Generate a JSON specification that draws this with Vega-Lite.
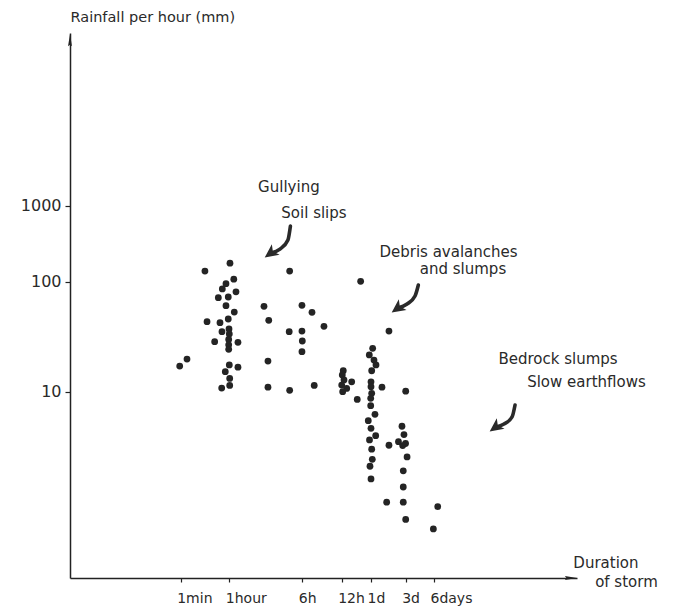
{
  "$schema": "https://vega.github.io/schema/vega-lite/v6.json",
  "width": 507,
  "height": 545,
  "autosize": "none",
  "padding": {"left": 70, "top": 33, "right": 107, "bottom": 31},
  "background": "white",
  "config": {
    "view": {"stroke": null},
    "font": "DejaVu Sans",
    "axis": {"grid": false, "domainColor": "#222", "domainWidth": 1.5, "tickColor": "#222", "tickWidth": 1.2, "labelColor": "#2a2a2a", "titleColor": "#2a2a2a", "labelFont": "DejaVu Sans", "titleFont": "DejaVu Sans"}
  },
  "datasets": {
    "dots": [
      {"minutes": 61, "rate": 175}, {"minutes": 7.7, "rate": 138}, {"minutes": 264, "rate": 138},
      {"minutes": 67, "rate": 108}, {"minutes": 45.4, "rate": 96}, {"minutes": 33.3, "rate": 86},
      {"minutes": 70.7, "rate": 81}, {"minutes": 23.8, "rate": 71.6}, {"minutes": 55, "rate": 72.6},
      {"minutes": 45.4, "rate": 60.5}, {"minutes": 67.8, "rate": 53}, {"minutes": 140.6, "rate": 59.7},
      {"minutes": 357, "rate": 61}, {"minutes": 427, "rate": 52.7}, {"minutes": 158, "rate": 44.6},
      {"minutes": 9.2, "rate": 43.3}, {"minutes": 27.4, "rate": 42.4}, {"minutes": 55, "rate": 45.8},
      {"minutes": 527, "rate": 39.3}, {"minutes": 32.4, "rate": 35.1}, {"minutes": 58.5, "rate": 37.2},
      {"minutes": 60, "rate": 33.5}, {"minutes": 261, "rate": 35.1}, {"minutes": 357, "rate": 35.6},
      {"minutes": 17.5, "rate": 28.5}, {"minutes": 57, "rate": 29.9}, {"minutes": 74.2, "rate": 28.1},
      {"minutes": 57, "rate": 26.7}, {"minutes": 57, "rate": 24.3}, {"minutes": 360, "rate": 28.9},
      {"minutes": 357, "rate": 23.1}, {"minutes": 1.7, "rate": 19.8}, {"minutes": 0.92, "rate": 17.1},
      {"minutes": 60, "rate": 17.5}, {"minutes": 74.2, "rate": 16.7}, {"minutes": 155, "rate": 19.0},
      {"minutes": 42.8, "rate": 15.2}, {"minutes": 60.6, "rate": 13.2}, {"minutes": 60.6, "rate": 11.4},
      {"minutes": 31.6, "rate": 10.8}, {"minutes": 155, "rate": 11.0}, {"minutes": 264, "rate": 10.3},
      {"minutes": 444, "rate": 11.4},
      {"minutes": 1127, "rate": 101}, {"minutes": 2543, "rate": 35.6},
      {"minutes": 747, "rate": 15.5}, {"minutes": 730, "rate": 14.2}, {"minutes": 760, "rate": 12.8},
      {"minutes": 912, "rate": 12.3}, {"minutes": 720, "rate": 11.5}, {"minutes": 810, "rate": 10.7},
      {"minutes": 737, "rate": 10.0}, {"minutes": 1040, "rate": 8.5},
      {"minutes": 1518, "rate": 24.8}, {"minutes": 1383, "rate": 21.6}, {"minutes": 1583, "rate": 19.4},
      {"minutes": 1686, "rate": 17.5}, {"minutes": 1472, "rate": 15.5}, {"minutes": 1440, "rate": 12.3},
      {"minutes": 1440, "rate": 11.1}, {"minutes": 2038, "rate": 11.0}, {"minutes": 1472, "rate": 9.67},
      {"minutes": 1430, "rate": 8.71}, {"minutes": 1430, "rate": 7.46},
      {"minutes": 1633, "rate": 6.23}, {"minutes": 1350, "rate": 5.45}, {"minutes": 1440, "rate": 4.65},
      {"minutes": 1670, "rate": 3.98}, {"minutes": 1390, "rate": 3.64}, {"minutes": 1472, "rate": 3.0},
      {"minutes": 1500, "rate": 2.43}, {"minutes": 1406, "rate": 2.1}, {"minutes": 1440, "rate": 1.61},
      {"minutes": 2543, "rate": 3.26}, {"minutes": 2365, "rate": 0.99},
      {"minutes": 4320, "rate": 10.1}, {"minutes": 3840, "rate": 4.85}, {"minutes": 4090, "rate": 4.08},
      {"minutes": 3436, "rate": 3.51}, {"minutes": 4300, "rate": 3.38}, {"minutes": 3926, "rate": 3.24},
      {"minutes": 4467, "rate": 2.55}, {"minutes": 4000, "rate": 1.91}, {"minutes": 4000, "rate": 1.36},
      {"minutes": 4000, "rate": 0.99}, {"minutes": 4320, "rate": 0.69}, {"minutes": 9465, "rate": 0.9},
      {"minutes": 8505, "rate": 0.565}
    ],
    "arrows": [
      {"arrow": "gully", "seq": 1, "minutes": 269, "rate": 541},
      {"arrow": "gully", "seq": 2, "minutes": 253, "rate": 354},
      {"arrow": "gully", "seq": 3, "minutes": 208, "rate": 269},
      {"arrow": "gully", "seq": 4, "minutes": 167, "rate": 239},
      {"arrow": "debris", "seq": 1, "minutes": 5890, "rate": 93.3},
      {"arrow": "debris", "seq": 2, "minutes": 5430, "rate": 74.1},
      {"arrow": "debris", "seq": 3, "minutes": 4467, "rate": 62.7},
      {"arrow": "debris", "seq": 4, "minutes": 3381, "rate": 57.7},
      {"arrow": "bedrock", "seq": 1, "minutes": 62900, "rate": 7.57},
      {"arrow": "bedrock", "seq": 2, "minutes": 58500, "rate": 5.89},
      {"arrow": "bedrock", "seq": 3, "minutes": 48000, "rate": 5.08},
      {"arrow": "bedrock", "seq": 4, "minutes": 39400, "rate": 4.78}
    ],
    "heads": [
      {"minutes": 167, "rate": 239},
      {"minutes": 3381, "rate": 57.7},
      {"minutes": 39400, "rate": 4.78}
    ],
    "labels": [
      {"text": "Gullying", "minutes": 259, "rate": 1762},
      {"text": "Soil slips", "minutes": 442, "rate": 802},
      {"text": "Debris avalanches", "minutes": 12330, "rate": 246},
      {"text": "and slumps", "minutes": 17580, "rate": 147},
      {"text": "Bedrock slumps", "minutes": 180300, "rate": 19.8},
      {"text": "Slow earthflows", "minutes": 362000, "rate": 12.25},
      {"text": "Duration", "minutes": 583000, "rate": 0.2774},
      {"text": "of storm", "minutes": 964000, "rate": 0.1862}
    ],
    "yarrow": [{"minutes": 0.0000891, "rate": 151000}],
    "xarrow": [{"minutes": 247700, "rate": 0.2023}]
  },
  "encoding": {
    "x": {
      "field": "minutes", "type": "quantitative",
      "scale": {"type": "log", "domain": [0.0000891, 1, 60, 360, 720, 1440, 4320, 8640, 287000], "range": [0, 110.7, 159.3, 232.3, 271.7, 301, 335.7, 364, 507], "nice": false, "zero": false, "clamp": false},
      "axis": {
        "title": null, "values": [1, 60, 360, 720, 1440, 4320, 8640],
        "labelExpr": "datum.value == 1 ? '1min' : datum.value == 60 ? '1hour' : datum.value == 360 ? '6h' : datum.value == 720 ? '12h' : datum.value == 1440 ? '1d' : datum.value == 4320 ? '3d' : '6days'",
        "tickSize": 4, "labelAlign": "left", "labelOffset": -4, "labelPadding": 9, "labelFontSize": 14, "labelOverlap": false, "labelFlush": false
      }
    },
    "y": {
      "field": "rate", "type": "quantitative",
      "scale": {"type": "log", "domain": [0.2023, 10, 100, 1000, 187000], "range": [545, 358.7, 248.7, 172.7, 0], "nice": false, "zero": false, "clamp": false},
      "axis": {
        "title": "Rainfall per hour (mm)", "titleAngle": 0, "titleAlign": "left", "titleBaseline": "middle", "titleX": 0, "titleY": -16, "titleFontSize": 14.5, "titleFontWeight": "normal",
        "values": [10, 100, 1000], "labelExpr": "datum.value == 10 ? '10' : datum.value == 100 ? '100' : '1000'",
        "tickSize": 5, "labelPadding": 4, "labelFontSize": 16, "labelOverlap": false, "labelFlush": false
      }
    }
  },
  "layer": [
    {
      "data": {"name": "dots"},
      "mark": {"type": "circle", "size": 46, "color": "#242424", "opacity": 1}
    },
    {
      "data": {"name": "arrows"},
      "mark": {"type": "line", "color": "#2a2a2a", "strokeWidth": 3.6, "strokeCap": "round", "interpolate": "monotone"},
      "encoding": {"detail": {"field": "arrow"}, "order": {"field": "seq"}}
    },
    {
      "data": {"name": "heads"},
      "mark": {"type": "point", "shape": "M0,-1L0.85,0.75L0,0.3L-0.85,0.75Z", "size": 240, "angle": 234, "filled": true, "color": "#2a2a2a", "opacity": 1}
    },
    {
      "data": {"name": "yarrow"},
      "mark": {"type": "point", "shape": "M0,-1L0.32,1L0,0.75L-0.32,1Z", "size": 150, "angle": 0, "filled": true, "color": "#222", "opacity": 1}
    },
    {
      "data": {"name": "xarrow"},
      "mark": {"type": "point", "shape": "M0,-1L0.32,1L0,0.75L-0.32,1Z", "size": 150, "angle": 90, "filled": true, "color": "#222", "opacity": 1}
    },
    {
      "data": {"name": "labels"},
      "mark": {"type": "text", "align": "center", "baseline": "middle", "fontSize": 15, "color": "#2a2a2a", "font": "DejaVu Sans"},
      "encoding": {"text": {"field": "text"}}
    }
  ]
}
